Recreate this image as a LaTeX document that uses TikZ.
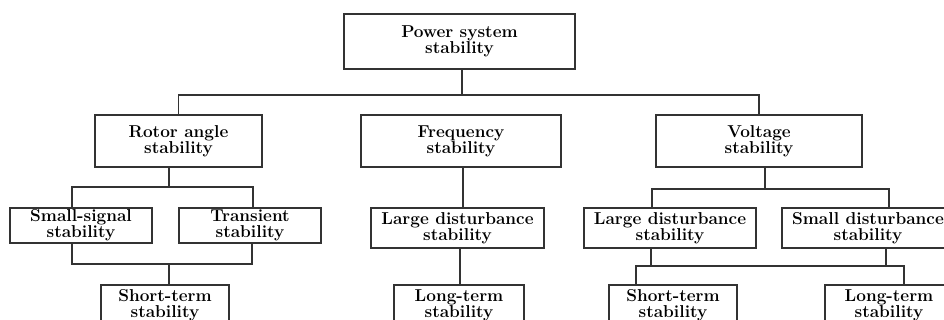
\documentclass[tikz,border=0pt]{standalone}
\begin{document}
\begin{tikzpicture}[x=1pt,y=-1pt,
  box/.style={draw=black!80, line width=1.2pt, rectangle, inner sep=0pt, align=center,
    font=\fontsize{17.2}{16}\selectfont\bfseries, text=black},
  link/.style={draw=black!80, line width=1.2pt}]
\useasboundingbox (0,0) rectangle (944,320);
\clip (0,0) rectangle (944,320);
% boxes
\node[box, minimum width=231pt, minimum height=55pt] (top) at (459.5,41.5) {Power system\\stability};
\node[box, minimum width=167pt, minimum height=52pt] (rotor) at (178.5,141) {Rotor angle\\stability};
\node[box, minimum width=200pt, minimum height=52pt] (freq) at (461,141) {Frequency\\stability};
\node[box, minimum width=206pt, minimum height=52pt] (volt) at (759,141) {Voltage\\stability};
\node[box, minimum width=142pt, minimum height=35pt] (ssig) at (81,225.5) {Small-signal\\stability};
\node[box, minimum width=142pt, minimum height=35pt] (trans) at (250,225.5) {Transient\\stability};
\node[box, minimum width=173pt, minimum height=40pt] (lfreq) at (457.5,228) {Large disturbance\\stability};
\node[box, minimum width=172pt, minimum height=40pt] (lvolt) at (670,228) {Large disturbance\\stability};
\node[box, minimum width=172pt, minimum height=40pt] (svolt) at (868,228) {Small disturbance\\stability};
\node[box, minimum width=128pt, minimum height=40pt] (strot) at (165,305) {Short-term\\stability};
\node[box, minimum width=130pt, minimum height=40pt] (ltfreq) at (459,305) {Long-term\\stability};
\node[box, minimum width=128pt, minimum height=40pt] (stvolt) at (673,305) {Short-term\\stability};
\node[box, minimum width=128pt, minimum height=40pt] (ltvolt) at (889,305) {Long-term\\stability};
% junction points
\coordinate (t1) at (462,95);
\coordinate (r1) at (169,187);
\coordinate (r1L) at (72,187);
\coordinate (r1R) at (253,187);
\coordinate (r2) at (169,264);
\coordinate (r2L) at (72,264);
\coordinate (r2R) at (252,264);
\coordinate (f1) at (463,188);
\coordinate (f2) at (460,266);
\coordinate (v1) at (765,189);
\coordinate (v1L) at (652,189);
\coordinate (v1R) at (889,189);
\coordinate (v2L) at (651,266);
\coordinate (v2R) at (886,266);
\coordinate (v3L) at (636,266);
\coordinate (v3R) at (904,266);
% connectors
\draw[link] (top.south -| t1) -- (t1);
\draw[link] (rotor.north) |- (t1) -| (volt.north);
\draw[link] (rotor.south -| r1) -- (r1);
\draw[link] (ssig.north -| r1L) -- (r1L) -- (r1R) -- (trans.north -| r1R);
\draw[link] (ssig.south -| r2L) -- (r2L) -- (r2R) -- (trans.south -| r2R);
\draw[link] (r2) -- (strot.north -| r2);
\draw[link] (freq.south -| f1) -- (lfreq.north -| f1);
\draw[link] (lfreq.south -| f2) -- (ltfreq.north -| f2);
\draw[link] (volt.south -| v1) -- (v1);
\draw[link] (lvolt.north -| v1L) -- (v1L) -- (v1R) -- (svolt.north -| v1R);
\draw[link] (lvolt.south -| v2L) -- (v2L);
\draw[link] (svolt.south -| v2R) -- (v2R);
\draw[link] (stvolt.north -| v3L) -- (v3L) -- (v3R) -- (ltvolt.north -| v3R);
\end{tikzpicture}
\end{document}
